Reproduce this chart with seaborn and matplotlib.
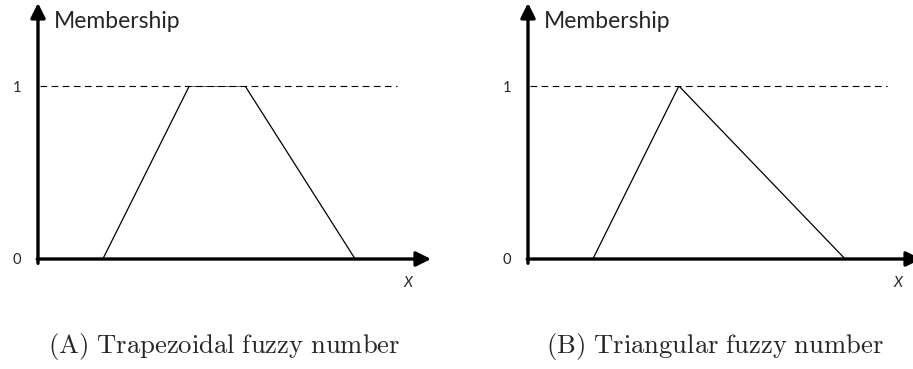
import matplotlib
matplotlib.use("Agg")
import matplotlib.pyplot as plt
import seaborn as sns
import pandas as pd

sns.set_style("white")
plt.rcParams['font.family'] = ['Lato', 'DejaVu Sans']
plt.rcParams['mathtext.fontset'] = 'cm'

# membership functions (x in arbitrary units along the axis, 0..10)
trap_x = [1.65, 3.85, 5.27, 8.07]
trap_mu = [0, 1, 1, 0]
tri_x = [1.65, 3.84, 8.07]
tri_mu = [0, 1, 0]

y_ticks = [0, 1]
y_label = "Membership"
x_label = "X"
captions = [r"$\mathrm{(A)\ Trapezoidal\ fuzzy\ number}$",
            r"$\mathrm{(B)\ Triangular\ fuzzy\ number}$"]

W, H = 913, 369
fig = plt.figure(figsize=(W / 100, H / 100), dpi=100)

panels = [(trap_x, trap_mu, 38), (tri_x, tri_mu, 528)]
for i, (xs, ys, x0) in enumerate(panels):
    ax = fig.add_axes([x0 / W, (H - 259) / H, 393 / W, 173 / H])
    ax.set_xlim(0, 10)
    ax.set_ylim(0, 1)
    for s in ax.spines.values():
        s.set_visible(False)
    ax.set_xticks([])
    ax.set_yticks(y_ticks)
    ax.set_yticklabels([str(t) for t in y_ticks], fontsize=10.5)
    ax.tick_params(axis='y', length=0, pad=12)
    ax.patch.set_alpha(0)

    df = pd.DataFrame({"x": xs, "mu": ys})
    sns.lineplot(data=df, x="x", y="mu", ax=ax, color="black", lw=0.9,
                 sort=False, estimator=None)
    ax.set_xlabel("")
    ax.set_ylabel("")

    # dashed line at membership 1
    ax.plot([0.05, 9.13], [1, 1], color="black", lw=0.8,
            linestyle=(0, (6, 4)), clip_on=False)

    # axes with arrows
    ax.annotate("", xy=(10.0, 0), xytext=(-0.02, 0),
                arrowprops=dict(arrowstyle="-|>", lw=2.4, color="black",
                                mutation_scale=22, shrinkA=0, shrinkB=0),
                annotation_clip=False)
    ax.annotate("", xy=(0, 1.48), xytext=(0, -0.025),
                arrowprops=dict(arrowstyle="-|>", lw=2.4, color="black",
                                mutation_scale=22, shrinkA=0, shrinkB=0),
                annotation_clip=False)

    ax.text(0.4, 1.37, y_label, fontsize=16.5, ha="left", va="center",
            clip_on=False)
    ax.text(9.42, -0.14, x_label, fontsize=10.5, style="italic",
            ha="center", va="center", clip_on=False)

fig.text(224 / W, 1 - 347 / H, captions[0], fontsize=19.2, ha="center", va="center")
fig.text(715 / W, 1 - 347 / H, captions[1], fontsize=19.2, ha="center", va="center")

fig.savefig("out.png", dpi=100)
